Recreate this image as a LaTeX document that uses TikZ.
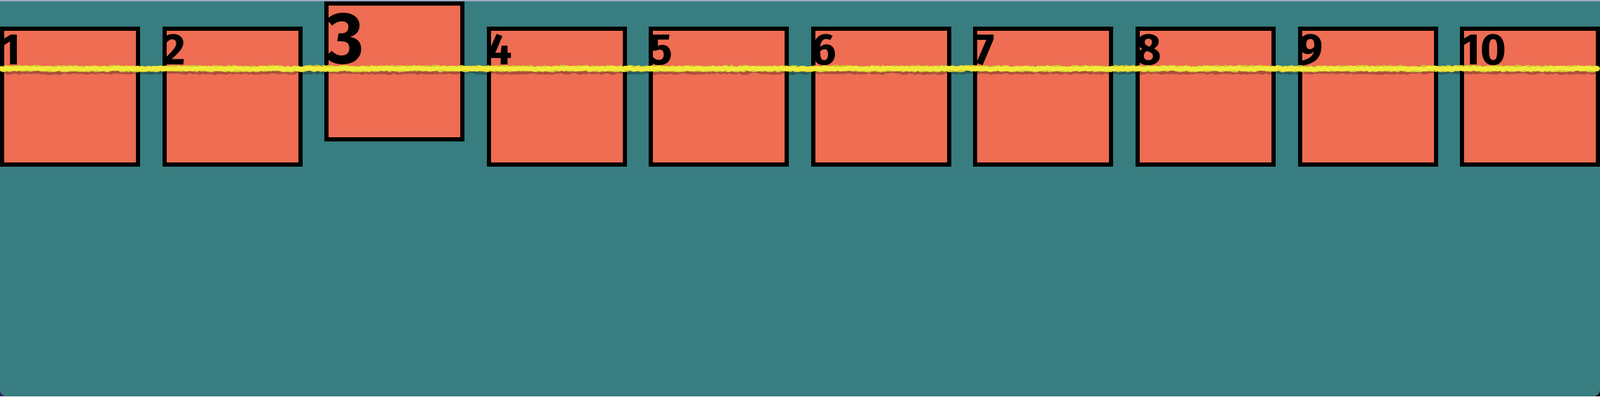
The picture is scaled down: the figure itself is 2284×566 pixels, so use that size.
\documentclass[tikz,border=0pt]{standalone}
\usepackage{fontspec}
\newfontfamily\digfont{Fira Sans}
\usetikzlibrary{calc,decorations.pathmorphing}
\definecolor{bgteal}{HTML}{387D80}
\definecolor{coral}{HTML}{EE6D53}
\definecolor{topstrip}{HTML}{9AA8C4}
\definecolor{hiyel}{HTML}{F4EA3A}
\definecolor{cornerdark}{HTML}{2E1F6A}
\tikzset{
  box/.style={draw=black, fill=coral, line width=6pt, minimum width=194pt, minimum height=194pt, inner sep=0pt, shape=rectangle},
  numlab/.style={anchor=base west, inner sep=0pt, font=\digfont\bfseries\fontsize{63}{63}\selectfont},
  biglab/.style={anchor=base west, inner sep=0pt, font=\digfont\bfseries\fontsize{104}{104}\selectfont},
  roughline/.style={line join=round, line cap=round, decorate},
}
\begin{document}
\begin{tikzpicture}[x=1pt,y=-1pt]
\useasboundingbox (0,0) rectangle (2284,566);
% background
\fill[topstrip] (0,0) rectangle (2284,3);
\fill[cornerdark] (0,550) rectangle (16,566);
\fill[black] (2268,550) rectangle (2284,566);
\fill[bgteal] (0,2) [rounded corners=9pt] -- (0,566) -- (2284,566) [sharp corners] -- (2284,2) -- cycle;
% boxes
\foreach \i in {1,2,4,5,6,7,8,9,10}{
  \node[box] (b\i) at ({(\i-1)*231.56+100},138) {};
  \node[numlab] (t\i) at ($(b\i.north west)+(0.5,54)$) {\i};
}
\node[box] (b3) at ({2*231.56+100},102) {};
\node[biglab] (t3) at ($(b3.north west)+(2,88)$) {3};
% yellow rough line
\coordinate (L) at (2,98);
\coordinate (R) at (2280,98);
\draw[roughline, black, opacity=0.28, line width=10pt, decoration={random steps, segment length=3pt, amplitude=1.5pt}] ($(L)+(0,2.5)$) -- ($(R)+(0,2.5)$);
\draw[roughline, hiyel!85!black, line width=8pt, decoration={random steps, segment length=2.5pt, amplitude=1.5pt}] (L) -- (R);
\draw[roughline, hiyel, line width=6pt, decoration={random steps, segment length=2pt, amplitude=1.2pt}] (L) -- (R);
\end{tikzpicture}
\end{document}
